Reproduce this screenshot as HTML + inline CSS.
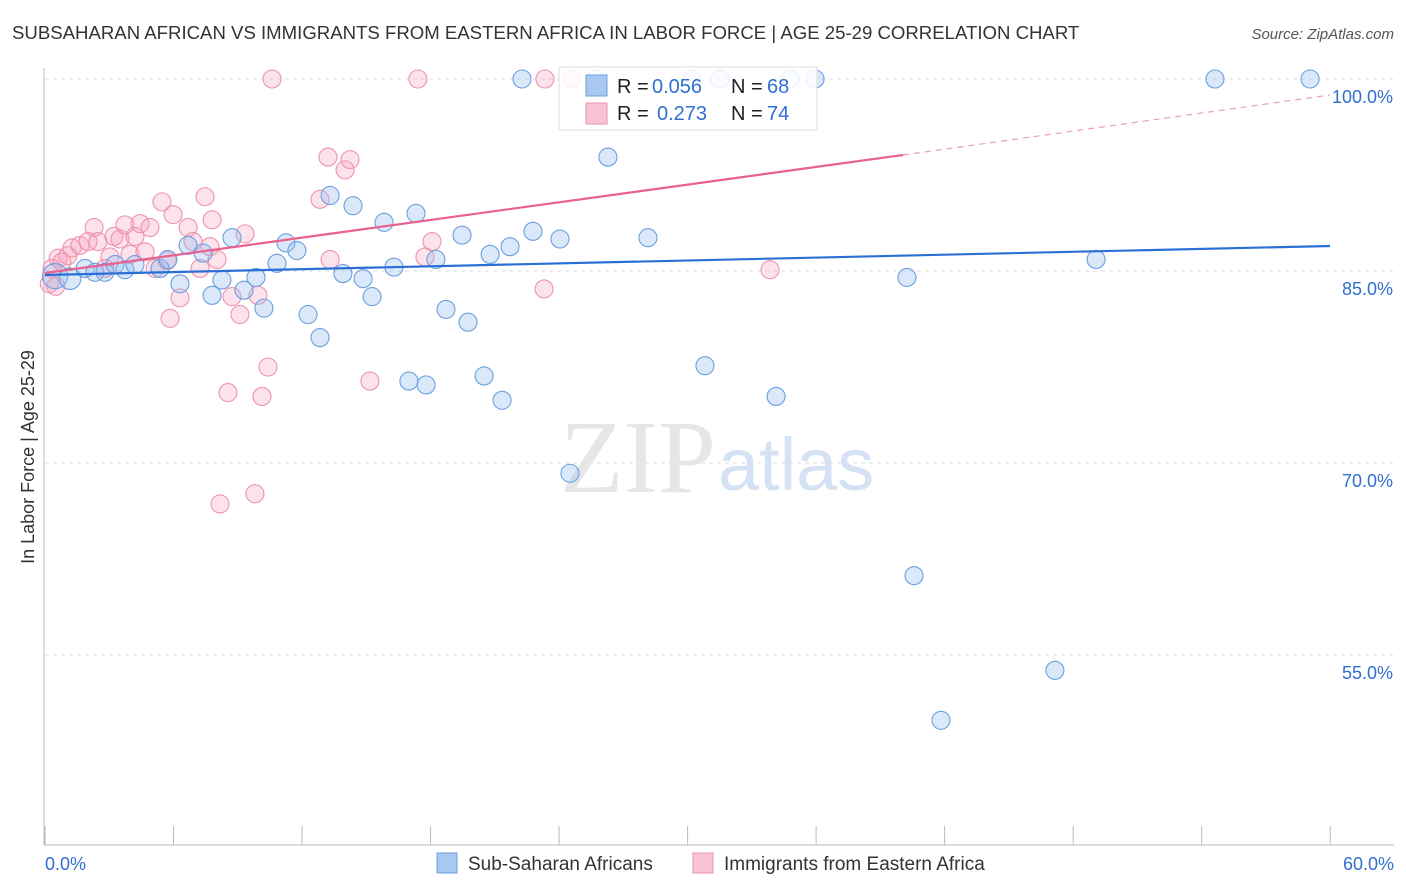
<!DOCTYPE html>
<html><head><meta charset="utf-8"><style>
body{margin:0;background:#fff;font-family:"Liberation Sans",sans-serif;}
svg{display:block}
</style></head><body>
<svg id="chart" width="1406" height="892" xmlns="http://www.w3.org/2000/svg">
<text x="12" y="39" font-size="18.6" fill="#333">SUBSAHARAN AFRICAN VS IMMIGRANTS FROM EASTERN AFRICA IN LABOR FORCE | AGE 25-29 CORRELATION CHART</text>
<text x="1394" y="39" font-size="15" fill="#555" font-style="italic" text-anchor="end">Source: ZipAtlas.com</text>
<g id="grid"></g>
<text x="716" y="492" font-size="104" fill="#e6e6e6" text-anchor="end" font-family="Liberation Serif,serif">ZIP</text>
<text x="718" y="490" font-size="74" fill="#d5e2f3">atlas</text>
<g id="axes"></g>
<g id="pink"></g>
<g id="blue"></g>
<g id="trends"></g>
<text transform="translate(34,457) rotate(-90)" font-size="18" fill="#333" text-anchor="middle">In Labor Force | Age 25-29</text>
<g>
<rect x="559" y="67" width="258" height="63" fill="rgba(255,255,255,0.85)" stroke="#ddd"/>
<rect x="586" y="75" width="21" height="21" fill="#a8c8f0" stroke="#6a9fe0"/>
<text x="617" y="93" font-size="20" fill="#222">R =</text>
<text x="652" y="93" font-size="20" fill="#3070d0">0.056</text>
<text x="731" y="93" font-size="20" fill="#222">N =</text>
<text x="767" y="93" font-size="20" fill="#3070d0">68</text>
<rect x="586" y="103" width="21" height="21" fill="#f8c4d4" stroke="#e890ae"/>
<text x="617" y="120" font-size="20" fill="#222">R =</text>
<text x="657" y="120" font-size="20" fill="#3070d0">0.273</text>
<text x="731" y="120" font-size="20" fill="#222">N =</text>
<text x="767" y="120" font-size="20" fill="#3070d0">74</text>
</g>
<g>
<rect x="437" y="853" width="20" height="20" fill="#a8c8f0" stroke="#6a9fe0"/>
<text x="468" y="870" font-size="19" fill="#333">Sub-Saharan Africans</text>
<rect x="693" y="853" width="20" height="20" fill="#f8c4d4" stroke="#e890ae"/>
<text x="724" y="870" font-size="19" fill="#333">Immigrants from Eastern Africa</text>
</g>
</svg>
<script>
const yTicks=[100,85,70,55];
const xLabels=["0.0%","60.0%"];
const blueX=[0.47,1.17,1.87,2.33,2.8,3.27,3.73,4.2,5.37,5.74,6.3,6.68,7.38,7.8,8.26,8.73,9.29,9.85,10.22,10.83,11.25,11.76,12.28,12.84,13.31,13.91,14.38,14.85,15.27,15.83,16.29,16.99,17.32,17.79,18.25,18.72,19.47,19.75,20.5,20.78,21.34,21.71,22.27,22.78,24.04,24.51,25.72,26.28,28.15,30.2,30.81,31.51,34.13,34.78,35.95,40.24,40.57,41.83,47.15,49.07,54.62,59.06];
const blueY=[84.6,84.4,85.2,84.9,84.9,85.5,85.1,85.5,85.2,85.9,84.0,87.0,86.4,83.1,84.3,87.6,83.5,84.5,82.1,85.6,87.2,86.6,81.6,79.8,90.9,84.8,90.1,84.4,83.0,88.8,85.3,76.4,89.5,76.1,85.9,82.0,87.8,81.0,76.8,86.3,74.9,86.9,100,88.1,87.5,69.2,100,93.9,87.6,100,77.6,100,75.2,100,100,84.5,61.2,49.9,53.8,85.9,100,100];
const blueR=[14,12,10,10,10,10,10,10,10,10,10,10,10,10,10,10,10,10,10,10,10,10,10,10,10,10,10,10,10,10,10,10,10,10,10,10,10,10,10,10,10,10,10,10,10,10,10,10,10,10,10,10,10,10,10,10,10,10,10,10,10,10];
const pinkX=[0.33,0.61,0.79,1.07,1.26,1.63,2.01,2.29,2.47,2.8,3.03,3.22,3.5,3.73,3.97,4.2,4.44,4.67,4.9,5.14,5.46,5.7,5.84,5.98,6.3,6.68,6.91,7.24,7.47,7.7,7.8,8.03,8.17,8.54,8.73,9.1,9.34,9.8,9.94,10.13,10.41,10.6,12.84,13.21,13.31,14.01,14.24,15.17,17.41,17.74,18.07,23.3,23.34,24.6,33.85,0.2,0.5];
const pinkY=[85.2,86.0,85.7,86.2,86.8,87.0,87.3,88.4,87.3,85.2,86.1,87.7,87.5,88.6,86.3,87.7,88.7,86.5,88.4,85.2,90.4,85.8,81.3,89.4,82.9,88.4,87.3,85.2,90.8,86.9,89.0,85.9,66.8,75.5,83.0,81.6,87.9,67.6,83.1,75.2,77.5,100,90.6,93.9,85.9,92.9,93.7,76.4,100,86.1,87.3,83.6,100,100,85.1,84.0,83.8];
const X0=45,XS=21.42,Y0=79,YS=12.8;
const xs=v=>X0+v*XS, ys=v=>Y0+(100-v)*YS;
const NS="http://www.w3.org/2000/svg";
function mk(tag,attrs,parent,txt){const e=document.createElementNS(NS,tag);for(const k in attrs)e.setAttribute(k,attrs[k]);if(txt!==undefined)e.textContent=txt;parent.appendChild(e);return e;}
const grid=document.getElementById('grid'),axes=document.getElementById('axes');
yTicks.forEach((t,i)=>{
 const g=mk('line',{x1:45,x2:1394,y1:ys(t),y2:ys(t),stroke:'#ddd','stroke-dasharray':'4,4'},grid);
 
 
 const l=mk('text',{x:1393,y:ys(t)+24,'font-size':18,fill:'#3070d0','text-anchor':'end'},axes,t.toFixed(1)+'%');
 
 
});
const ya=mk('line',{x1:44,x2:44,y1:68,y2:845,stroke:'#bbb'},axes);


const xa=mk('line',{x1:44,x2:1394,y1:845,y2:845,stroke:'#bbb'},axes);


for(let i=0;i<=10;i++){const t=mk('line',{x1:xs(i*6),x2:xs(i*6),y1:826,y2:845,stroke:'#bbb'},axes);
 
 }
const xl0=mk('text',{x:45,y:870,'font-size':18,fill:'#3070d0'},axes,xLabels[0]);


const xl1=mk('text',{x:1394,y:870,'font-size':18,fill:'#3070d0','text-anchor':'end'},axes,xLabels[1]);


const pink=document.getElementById('pink'),blue=document.getElementById('blue');
pinkX.forEach((x,i)=>{const c=mk('circle',{cx:xs(x),cy:ys(pinkY[i]),r:9,fill:'rgba(245,160,185,0.3)',stroke:'#ee93b0','stroke-width':1.1},pink);
 
 });
blueX.forEach((x,i)=>{const c=mk('circle',{cx:xs(x),cy:ys(blueY[i]),r:blueR[i]*0.9,fill:'rgba(150,190,240,0.35)',stroke:'#6a9fe0','stroke-width':1.1},blue);
 
 });
const tr=document.getElementById('trends');
const b=mk('line',{x1:45,y1:275,x2:1330,y2:246,stroke:'#2a6fd6','stroke-width':2.2},tr);


const p=mk('line',{x1:45,y1:273,x2:903,y2:155,stroke:'#e8618f','stroke-width':2.2},tr);


const pd=mk('line',{x1:903,y1:155,x2:1330,y2:95,stroke:'#e8a0b8','stroke-width':1.2,'stroke-dasharray':'6,5'},tr);


</script>
</body></html>
